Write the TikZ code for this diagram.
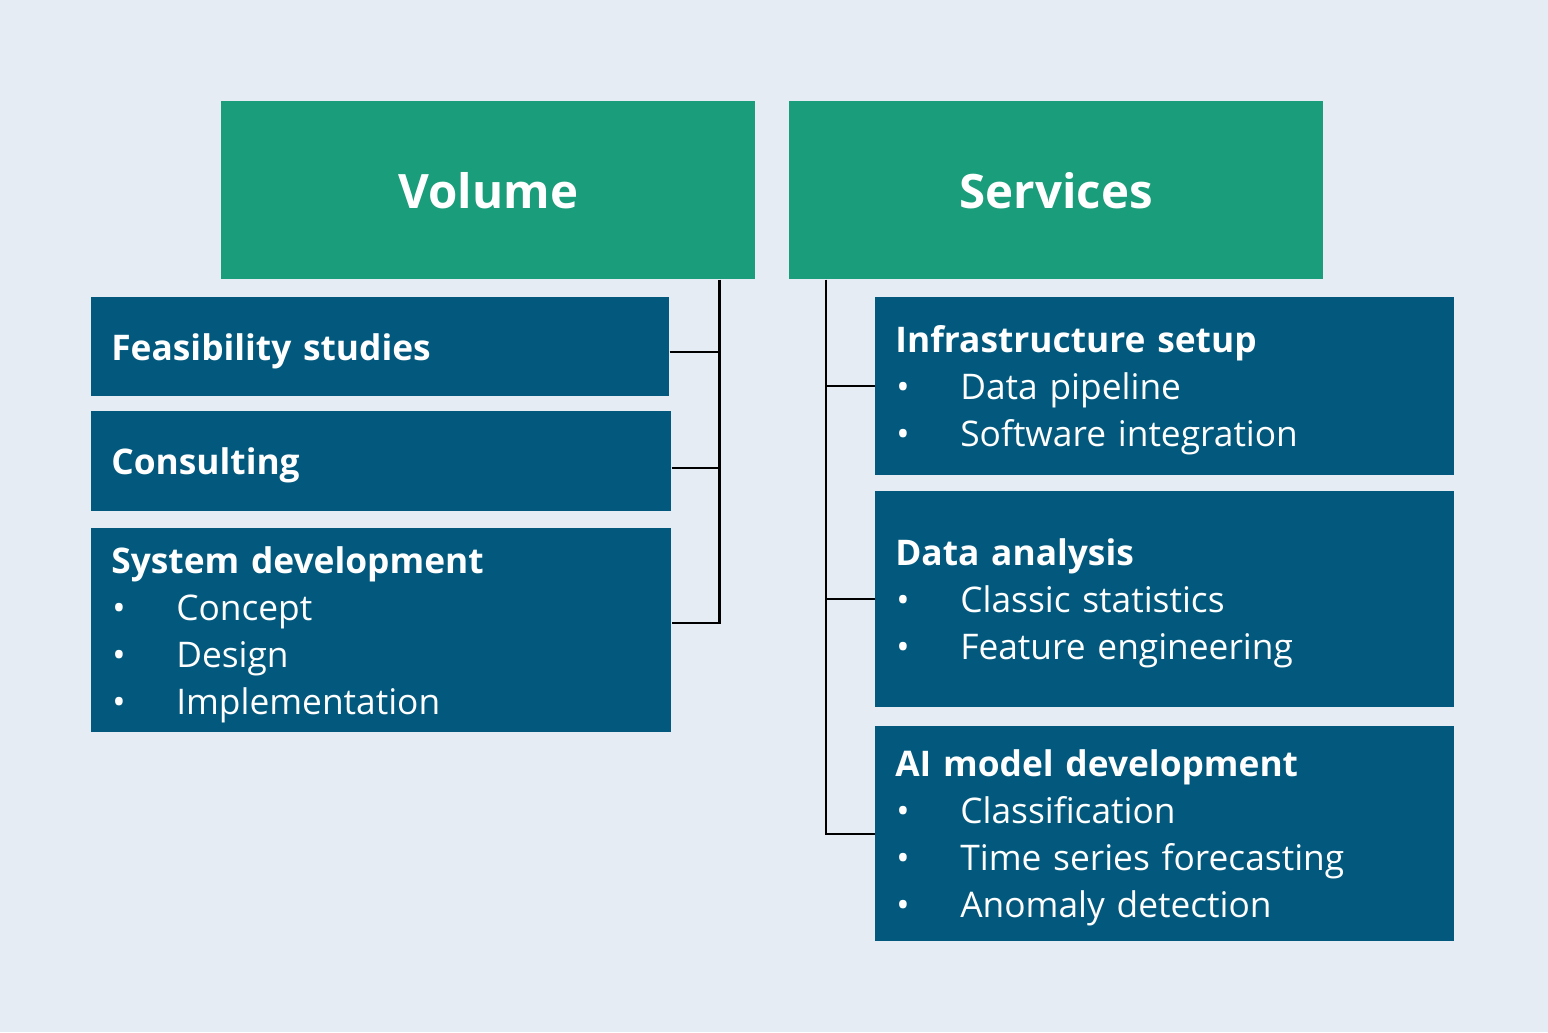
\documentclass[tikz,border=0pt]{standalone}
\usepackage{fontspec}
\setmainfont{Open Sans}
\definecolor{pagebg}{HTML}{E5ECF3}
\definecolor{headgreen}{HTML}{1A9D7A}
\definecolor{itemblue}{HTML}{02597D}
\tikzset{%
    Head box/.style={%
        fill=headgreen,
        text=white,
        font=\bfseries\fontsize{27}{32}\selectfont,
        minimum width=10.68cm,
        minimum height=3.56cm,
        inner sep=0pt,
        anchor=north west
    },
    Item box/.style={%
        fill=itemblue,
        text=white,
        anchor=north west,
        align=left,
        inner xsep=0.4cm,
        inner ysep=0pt,
        font=\fontsize{20.1}{26.7}\selectfont
    },
    Link line/.style={%
        line width=1.3pt,
        black
    }
}
\newcommand{\Puce}[1]{\makebox[1.3cm][l]{\hspace{0.02cm}•}#1}
\newcommand{\Titre}[1]{\rule{0pt}{20pt}\textbf{#1}}

\begin{document}
\begin{tikzpicture}[x=0.02cm,y=-0.02cm]
\fill[pagebg] (0,0) rectangle (1548,1032) ;
\useasboundingbox (0,0) rectangle (1548,1032) ;

% en-tetes
\node[Head box] (vol) at (221,101) {Volume} ;
\node[Head box] (serv) at (789,101) {Services} ;

% colonne gauche
\node[Item box,text width=10.76cm,minimum height=1.98cm] (feas) at (91,297)
    {\Titre{Feasibility studies}} ;
\node[Item box,text width=10.8cm,minimum height=2cm] (cons) at (91,411)
    {\Titre{Consulting}} ;
\node[Item box,text width=10.8cm,minimum height=4.08cm] (sys) at (91,528)
    {\Titre{System development}\\
     \Puce{Concept}\\
     \Puce{Design}\\
     \Puce{Implementation}} ;

% colonne droite
\node[Item box,text width=10.78cm,minimum height=3.56cm] (infra) at (875,297)
    {\Titre{Infrastructure setup}\\
     \Puce{Data pipeline}\\
     \Puce{Software integration}} ;
\node[Item box,text width=10.78cm,minimum height=4.32cm] (data) at (875,491)
    {\Titre{Data analysis}\\
     \Puce{Classic statistics}\\
     \Puce{Feature engineering}} ;
\node[Item box,text width=10.78cm,minimum height=4.3cm] (ai) at (875,726)
    {\Titre{AI model development}\\
     \Puce{Classification}\\
     \Puce{Time series forecasting}\\
     \Puce{Anomaly detection}} ;

% liaisons
\coordinate (lbus) at ([xshift=-0.72cm]vol.south east) ;
\coordinate (rbus) at ([xshift=0.74cm]serv.south west) ;

\draw[Link line] (lbus) |- ([yshift=0.14cm]sys.east) ;
\draw[Link line] ([yshift=-0.11cm]feas.east) -- ([yshift=-0.11cm]feas.east -| lbus) ;
\draw[Link line] ([yshift=-0.14cm]cons.east) -- ([yshift=-0.14cm]cons.east -| lbus) ;

\draw[Link line] (rbus) |- (ai.west) ;
\draw[Link line] (infra.west) -- (infra.west -| rbus) ;
\draw[Link line] (data.west) -- (data.west -| rbus) ;

\end{tikzpicture}
\end{document}
